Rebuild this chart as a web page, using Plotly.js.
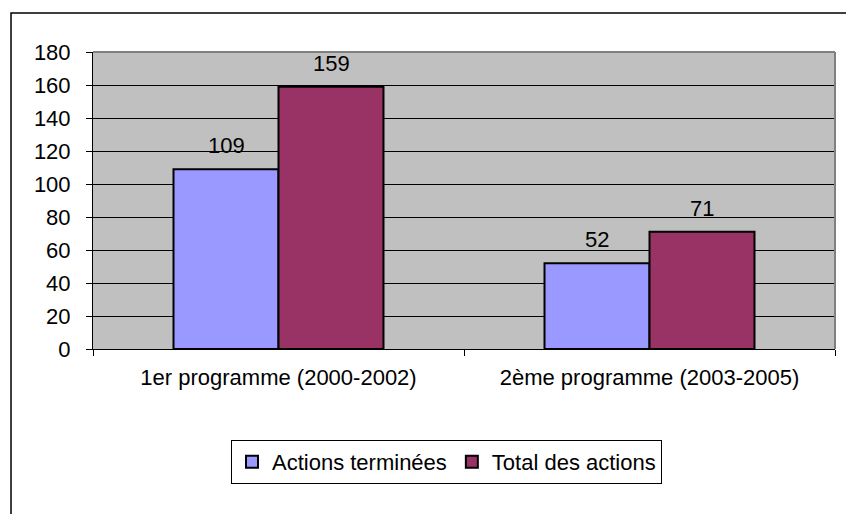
<!DOCTYPE html>
<html>
<head>
<meta charset="utf-8">
<script src="https://cdn.plot.ly/plotly-3.0.1.min.js"></script>
<style>html,body{margin:0;padding:0;background:#fff;}#chart{width:846px;height:514px;}</style>
</head>
<body>
<div id="chart"></div>
<script>
var categories = ["1er programme (2000-2002)", "2ème programme (2003-2005)"];
var seriesNames = ["Actions terminées", "Total des actions"];
var actionsTerminees = [109, 52];
var totalActions = [159, 71];
var yTicks = [0, 20, 40, 60, 80, 100, 120, 140, 160, 180];

var FONT = "Liberation Sans, Arial, sans-serif";
var FS = 22;

var traces = [
  {type: "bar", name: seriesNames[0], x: categories, y: actionsTerminees,
   marker: {color: "#9999FF", line: {color: "#000000", width: 2}}, hoverinfo: "none"},
  {type: "bar", name: seriesNames[1], x: categories, y: totalActions,
   marker: {color: "#993366", line: {color: "#000000", width: 2}}, hoverinfo: "none"}
];

// data labels built from series arrays
var annotations = [];
var series = [actionsTerminees, totalActions];
series.forEach(function (vals, si) {
  vals.forEach(function (v, ci) {
    annotations.push({
      x: ci + (si === 0 ? -0.1415 : 0.1415), y: v, xref: "x", yref: "y",
      text: String(v), showarrow: false, yanchor: "bottom", yshift: 9,
      font: {family: FONT, size: FS, color: "#000"}
    });
  });
});

var layout = {
  width: 846, height: 514,
  margin: {l: 93, r: 11, t: 52, b: 165},
  paper_bgcolor: "#ffffff",
  plot_bgcolor: "#C0C0C0",
  font: {family: FONT, size: FS, color: "#000"},
  barmode: "group",
  bargap: 0.434,
  bargroupgap: 0,
  showlegend: true,
  legend: {
    orientation: "h", x: 0.4764, xanchor: "center", y: -0.38, yanchor: "middle",
    bgcolor: "#ffffff", bordercolor: "#000000", borderwidth: 1,
    font: {family: FONT, size: FS, color: "#000"},
    itemwidth: 30, tracegroupgap: 0
  },
  xaxis: {
    type: "category", range: [-0.5, 1.5],
    showgrid: false, zeroline: false,
    showline: true, linecolor: "#000", linewidth: 1,
    ticks: "outside", tickson: "boundaries", ticklen: 6, tickcolor: "#000", tickwidth: 1,
    tickfont: {family: FONT, size: FS, color: "#000"},
    ticklabelstandoff: 9
  },
  yaxis: {
    range: [0, 180], tickvals: yTicks, ticktext: yTicks.map(String),
    showgrid: true, gridcolor: "#000000", gridwidth: 1,
    zeroline: false, showline: true, linecolor: "#000", linewidth: 1,
    ticks: "outside", ticklen: 6, tickcolor: "#000", tickwidth: 1,
    tickfont: {family: FONT, size: FS, color: "#000"},
    ticklabelstandoff: 11
  },
  annotations: annotations,
  shapes: [
    {type: "line", xref: "paper", yref: "paper", x0: 0, x1: 1, y0: 1, y1: 1, line: {color: "#808080", width: 2}},
    {type: "line", xref: "paper", yref: "paper", x0: 1, x1: 1, y0: 0, y1: 1, line: {color: "#808080", width: 2}},
    {type: "rect", xref: "paper", yref: "paper", x0: -0.1105, x1: 1.05, y0: -0.7, y1: 1.1313,
     line: {color: "#000", width: 1.5}, fillcolor: "rgba(0,0,0,0)", layer: "below"}
  ]
};

Plotly.newPlot("chart", traces, layout, {displayModeBar: false, staticPlot: true});
</script>
</body>
</html>
